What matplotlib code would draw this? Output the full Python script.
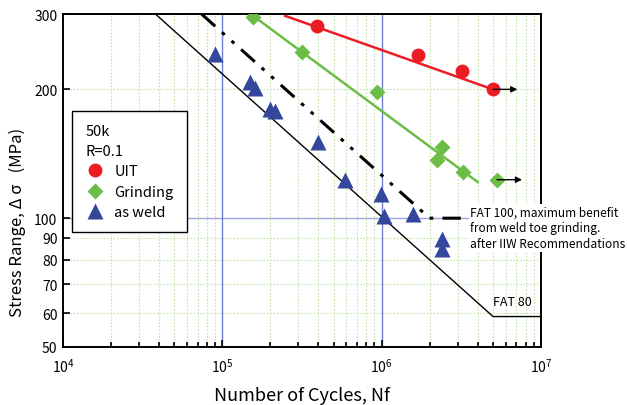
import matplotlib
matplotlib.use("Agg")
import matplotlib.pyplot as plt
from matplotlib.lines import Line2D
from matplotlib.ticker import LogLocator, NullFormatter, FixedLocator, FixedFormatter

plt.rcParams['font.family'] = ['Noto Sans CJK JP', 'DejaVu Sans']

# values
uit_n = [3.9e5, 1.7e6, 3.2e6, 5.0e6]
uit_s = [281, 240, 221, 200]
grind_n = [1.56e5, 3.16e5, 9.35e5, 2.39e6, 2.23e6, 3.24e6, 5.3e6]
grind_s = [295, 244, 197, 147, 137, 128, 123]
weld_n = [9.0e4, 1.49e5, 1.60e5, 1.99e5, 2.14e5, 3.99e5, 5.89e5, 9.9e5, 1.04e6, 1.57e6, 2.39e6, 2.39e6]
weld_s = [242, 208, 202, 180, 178, 151, 123, 114, 101, 102, 89.5, 84.5]

uit_line_n = [2.48e5, 4.8e6]
uit_line_s = [297, 201]
grind_line_n = [1.56e5, 4.0e6]
grind_line_s = [297, 121.5]
fat80_n = [3.8e4, 5e6, 1e7]
fat80_s = [300, 58.9, 58.9]
fat100_n = [7.4e4, 2e6, 4e6]
fat100_s = [300, 100, 100]

# run-out arrows: start N, end N, stress
uit_arrow = [5.0e6, 7.1e6, 200]
grind_arrow = [5.3e6, 7.6e6, 123]

y_ticks = [50, 60, 70, 80, 90, 100, 200, 300]
y_grid = [60, 70, 80, 90, 200]
ref_n = [1e5, 1e6]
ref_s = 100

red = "#ec1c24"
green = "#6cbd45"
blue = "#33489c"
refblue = "#6f7fd2"

fig = plt.figure(figsize=(6.27, 4.06), dpi=100)
ax = fig.add_axes([63/627, 1-348/406, 478/627, 333/406])
ax.set_xscale("log")
ax.set_yscale("log")
ax.set_xlim(1e4, 1e7)
ax.set_ylim(50, 300)

# grid
ax.xaxis.set_major_locator(LogLocator(base=10))
ax.xaxis.set_minor_locator(LogLocator(base=10, subs=range(2, 10)))
ax.xaxis.set_minor_formatter(NullFormatter())
ax.grid(True, which="minor", axis="x", color="#c6e3b2", linestyle=(0, (1.5, 1.5)), lw=0.8)
for g in y_grid:
    ax.axhline(g, color="#c6e3b2", linestyle=(0, (1.5, 1.5)), lw=0.8, zorder=0.5)
for n in ref_n:
    ax.axvline(n, color=refblue, lw=1.0, zorder=1)
ax.axhline(ref_s, color=refblue, lw=1.0, alpha=0.7, zorder=1)

ax.yaxis.set_major_locator(FixedLocator(y_ticks))
ax.yaxis.set_major_formatter(FixedFormatter([str(t) for t in y_ticks]))
ax.yaxis.set_minor_locator(FixedLocator([]))
ax.yaxis.set_minor_formatter(NullFormatter())

# design curves
ax.plot(fat80_n, fat80_s, color="k", lw=1.0, zorder=2)
ax.plot(fat100_n, fat100_s, color="k", lw=2.2, dashes=(6, 3, 1.2, 3, 1.2, 3), zorder=2)

# fitted lines
ax.plot(uit_line_n, uit_line_s, color=red, lw=1.8, zorder=2)
ax.plot(grind_line_n, grind_line_s, color=green, lw=1.8, zorder=2)

# data
ax.plot(uit_n, uit_s, "o", color=red, ms=10, mec="none", zorder=3)
ax.plot(grind_n, grind_s, "D", color=green, ms=8, mec="none", zorder=3)
ax.plot(weld_n, weld_s, "^", color=blue, ms=11, mec="none", zorder=3)

for a in [uit_arrow, grind_arrow]:
    ax.annotate("", xy=(a[1], a[2]), xytext=(a[0], a[2]),
                arrowprops=dict(arrowstyle="-|>", color="k", lw=1.0,
                                mutation_scale=9, shrinkA=0, shrinkB=0), zorder=4)

ax.text(3.6e6, 94.9, "FAT 100, maximum benefit\nfrom weld toe grinding.\nafter IIW Recommendations",
        fontsize=8.6, va="center", ha="left", linespacing=1.3, clip_on=False,
        bbox=dict(facecolor="white", edgecolor="none", pad=1), zorder=5)
ax.text(5.0e6, 63.7, "FAT 80", fontsize=9, va="center", ha="left", zorder=5)

handles = [
    Line2D([], [], marker="o", ls="none", color=red, ms=10, mec="none"),
    Line2D([], [], marker="D", ls="none", color=green, ms=8, mec="none"),
    Line2D([], [], marker="^", ls="none", color=blue, ms=11, mec="none"),
]
leg = ax.legend(handles, ["UIT", "Grinding", "as weld"], title="50k\nR=0.1",
                loc="upper left", bbox_to_anchor=(0.019, 0.709), borderaxespad=0,
                fontsize=10.5, title_fontsize=10.5, alignment="left",
                frameon=True, fancybox=False, edgecolor="k", framealpha=1,
                handlelength=1.3, handletextpad=0.7, borderpad=0.9, labelspacing=0.45)
leg.get_title().set_linespacing(1.5)
leg.get_frame().set_linewidth(1.0)
leg.set_zorder(6)

ax.tick_params(which="both", direction="in", top=False, right=False, width=1.2, labelsize=10)
ax.tick_params(which="major", length=5)
ax.tick_params(which="minor", length=3.5)
ax.tick_params(axis="x", pad=7)
ax.tick_params(axis="y", pad=4)
for sp in ax.spines.values():
    sp.set_linewidth(1.4)

ax.set_xlabel("Number of Cycles, Nf", fontsize=13, labelpad=8)
fig.text(17/627, 1-317/406, "Stress Range, Δ σ   (MPa)", fontsize=12,
         rotation=90, ha="center", va="bottom")

fig.savefig("out.png", dpi=100)
